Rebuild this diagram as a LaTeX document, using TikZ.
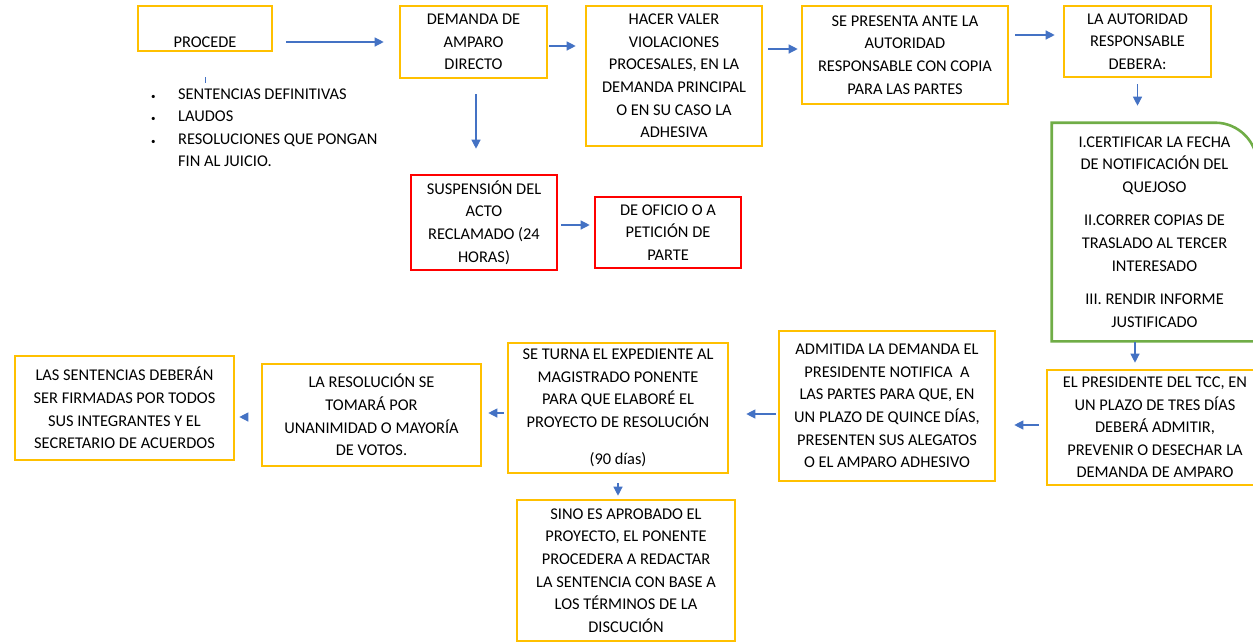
\documentclass[tikz,border=0pt]{standalone}
\usepackage{fontspec}
\setmainfont{Carlito}
\usetikzlibrary{arrows.meta, positioning, calc}

\definecolor{oro}{HTML}{FFC000}
\definecolor{rojo}{HTML}{FF0000}
\definecolor{verde}{HTML}{70AD47}
\definecolor{azul}{HTML}{4472C4}
\newcommand{\letra}{\fontsize{16.4}{22.6}\selectfont}
\newcommand{\punto}{{\fontsize{9}{9}\selectfont\textbullet}}

\begin{document}
\begin{tikzpicture}[x=1pt, y=1pt,
    caja/.style={draw=oro, line width=2.6pt, align=center, inner sep=0pt, font=\letra},
    cajaroja/.style={caja, draw=rojo},
    flecha/.style={draw=azul, line width=1.2pt, -{Triangle[length=9pt, width=9pt]}}]
    \useasboundingbox (0,0) rectangle (1253,-643);
    \clip (0,0) rectangle (1253,-643);

    \node[caja, minimum width=134pt, minimum height=45pt] (procede) at (205,-28.5) {\strut\\PROCEDE};
    \node[anchor=west, inner sep=0pt, font=\letra] (lista) at (151,-128.5) {\begin{tabular}{@{}l@{\hspace{22.5pt}}l@{}}
        \punto & SENTENCIAS DEFINITIVAS\\
        \punto & LAUDOS\\
        \punto & RESOLUCIONES QUE PONGAN\\
               & FIN AL JUICIO.
    \end{tabular}};
    \node[caja, minimum width=147pt, minimum height=72pt] (demanda) at (473.5,-42) {DEMANDA DE\\AMPARO\\DIRECTO};
    \node[caja, minimum width=176pt, minimum height=140pt] (hacer) at (674,-76) {HACER VALER\\VIOLACIONES\\PROCESALES, EN LA\\DEMANDA PRINCIPAL\\O EN SU CASO LA\\ADHESIVA};
    \node[caja, minimum width=206pt, minimum height=98pt] (presenta) at (905,-55) {SE PRESENTA ANTE LA\\AUTORIDAD\\RESPONSABLE CON COPIA\\PARA LAS PARTES};
    \node[caja, minimum width=147pt, minimum height=71pt] (autoridad) at (1137.5,-41.5) {LA AUTORIDAD\\RESPONSABLE\\DEBERA:};
    \node[caja, draw=none, minimum width=203pt, minimum height=216pt] (deberes) at (1154.5,-232) {I.CERTIFICAR LA FECHA\\DE NOTIFICACIÓN DEL\\QUEJOSO\\[11pt]II.CORRER COPIAS DE\\TRASLADO AL TERCER\\INTERESADO\\[11pt]III. RENDIR INFORME\\JUSTIFICADO};
    \draw[verde, line width=2.6pt] (deberes.south west) -- (deberes.north west) -- ([xshift=-42pt]deberes.north east)
        .. controls ([xshift=-19pt]deberes.north east) and ([yshift=-19pt]deberes.north east) .. ([yshift=-42pt]deberes.north east)
        -- (deberes.south east) -- cycle;
    \node[caja, minimum width=216pt, minimum height=115pt] (presidente) at (1155,-427.5) {EL PRESIDENTE DEL TCC, EN\\UN PLAZO DE TRES DÍAS\\DEBERÁ ADMITIR,\\PREVENIR O DESECHAR LA\\DEMANDA DE AMPARO};
    \node[caja, minimum width=216pt, minimum height=150pt] (admitida) at (887,-406) {ADMITIDA LA DEMANDA EL\\PRESIDENTE NOTIFICA~ A\\LAS PARTES PARA QUE, EN\\UN PLAZO DE QUINCE DÍAS,\\PRESENTEN SUS ALEGATOS\\O EL AMPARO ADHESIVO};
    \node[caja, minimum width=220pt, minimum height=130pt] (turna) at (618,-408) {SE TURNA EL EXPEDIENTE AL\\MAGISTRADO PONENTE\\PARA QUE ELABORÉ EL\\PROYECTO DE RESOLUCIÓN\\[15pt](90 días)};
    \node[caja, minimum width=218pt, minimum height=141pt] (sino) at (626,-570.5) {SINO ES APROBADO EL\\PROYECTO, EL PONENTE\\PROCEDERA A REDACTAR\\LA SENTENCIA CON BASE A\\LOS TÉRMINOS DE LA\\DISCUCIÓN};
    \node[caja, minimum width=219pt, minimum height=102pt] (resolucion) at (371.5,-415) {LA RESOLUCIÓN SE\\TOMARÁ POR\\UNANIMIDAD O MAYORÍA\\DE VOTOS.};
    \node[caja, minimum width=219pt, minimum height=104pt] (firmas) at (124.5,-408) {LAS SENTENCIAS DEBERÁN\\SER FIRMADAS POR TODOS\\SUS INTEGRANTES Y EL\\SECRETARIO DE ACUERDOS};
    \node[cajaroja, minimum width=146pt, minimum height=95pt] (suspension) at (484,-222.5) {SUSPENSIÓN DEL\\ACTO\\RECLAMADO (24\\HORAS)};
    \node[cajaroja, minimum width=146pt, minimum height=71pt] (oficio) at (668,-232.5) {DE OFICIO O A\\PETICIÓN DE\\PARTE};

    \draw[azul, line width=0.8pt] ([yshift=-25pt]procede.south) -- ++(0,-6);
    \draw[flecha, shorten <=13pt, shorten >=15pt] (procede.east |- demanda.west) -- (demanda.west);
    \draw[flecha, shorten <=1pt, shorten >=9pt] ([yshift=-4pt]demanda.east) -- ([yshift=-4pt]demanda.east -| hacer.west);
    \draw[flecha, shorten <=5pt, shorten >=3pt] ([yshift=6pt]presenta.west -| hacer.east) -- ([yshift=6pt]presenta.west);
    \draw[flecha, shorten <=6pt, shorten >=8pt] ([yshift=6.5pt]autoridad.west -| presenta.east) -- ([yshift=6.5pt]autoridad.west);
    \draw[flecha, shorten <=6pt, shorten >=17pt] (autoridad.south) -- (autoridad.south |- deberes.north);
    \draw[flecha, shorten <=1pt, shorten >=6pt] ([xshift=-20pt]presidente.north |- deberes.south) -- ([xshift=-20pt]presidente.north);
    \draw[flecha, shorten <=7pt, shorten >=18pt] ([yshift=2.5pt]presidente.west) -- ([yshift=2.5pt]presidente.west -| admitida.east);
    \draw[flecha, shorten <=2pt, shorten >=17pt] ([yshift=-8pt]admitida.west) -- ([yshift=-8pt]admitida.west -| turna.east);
    \draw[flecha, shorten <=9pt, shorten >=3pt] (turna.south) -- (turna.south |- sino.north);
    \draw[flecha, shorten <=3pt, shorten >=6pt] ([yshift=-5pt]turna.west) -- ([yshift=-5pt]turna.west -| resolucion.east);
    \draw[flecha, shorten <=15pt, shorten >=4pt] ([yshift=-2pt]resolucion.west) -- ([yshift=-2pt]resolucion.west -| firmas.east);
    \draw[flecha, shorten <=3pt, shorten >=4pt] ([yshift=-2.5pt]suspension.east) -- ([yshift=-2.5pt]suspension.east -| oficio.west);
    \draw[flecha, shorten <=15pt, shorten >=25pt] ([xshift=2.5pt]demanda.south) -- ([xshift=2.5pt]demanda.south |- suspension.north);
\end{tikzpicture}
\end{document}
